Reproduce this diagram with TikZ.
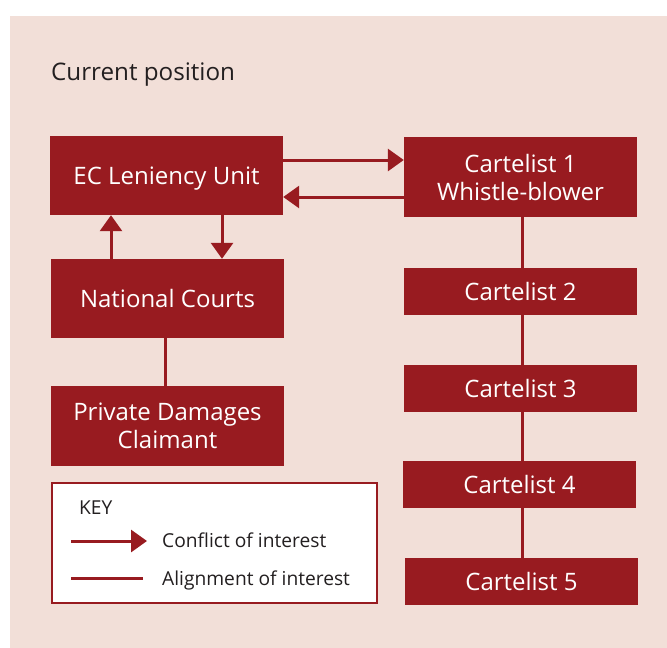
\documentclass[tikz,border=0pt]{standalone}
\usepackage{fontspec}
\setmainfont{Open Sans}
\usetikzlibrary{arrows.meta}
\definecolor{dred}{RGB}{152,27,32}
\definecolor{bgpink}{RGB}{242,223,216}
\definecolor{dgray}{RGB}{35,31,32}
\tikzset{
  box/.style={fill=dred, draw=none, text=white, align=center, inner sep=0pt,
    text depth=0pt, font=\fontsize{24}{28}\selectfont},
  conf/.style={draw=dred, line width=3pt, -{Triangle[length=16pt,width=22pt]}},
  align line/.style={draw=dred, line width=3pt},
  keytext/.style={text=dgray, anchor=base west, inner sep=0pt, font=\fontsize{19.2}{22}\selectfont},
}
\begin{document}
\begin{tikzpicture}[x=1pt,y=-1pt]
\useasboundingbox (0,0) rectangle (667,648);
\fill[bgpink] (10,16) rectangle (667,648);
\node[keytext, text=dgray, font=\fontsize{24.2}{28}\selectfont] (title) at (51,80.5) {Current position};
% boxes
\node[box, minimum width=233pt, minimum height=79pt] (ec) at (166.5,175.5) {EC Leniency Unit};
\node[box, minimum width=233pt, minimum height=80pt] (c1) at (520.5,177) {Cartelist 1\\Whistle-blower};
\node[box, minimum width=233pt, minimum height=79pt] (nc) at (167.5,298.5) {National Courts};
\node[box, minimum width=233pt, minimum height=80pt] (pdc) at (167.5,426) {Private Damages\\Claimant};
\node[box, minimum width=233pt, minimum height=47pt] (c2) at (520.5,291.5) {Cartelist 2};
\node[box, minimum width=233pt, minimum height=47pt] (c3) at (520.5,388.5) {Cartelist 3};
\node[box, minimum width=233pt, minimum height=47pt] (c4) at (519.5,484.5) {Cartelist 4};
\node[box, minimum width=233pt, minimum height=47pt] (c5) at (521.5,581.5) {Cartelist 5};
% connectors
\draw[conf] (ec.east |- 0,160) -- (c1.west |- 0,160);
\draw[conf] (c1.west |- 0,197) -- (ec.east |- 0,197);
\draw[conf] (nc.north -| 111,0) -- (ec.south -| 111,0);
\draw[conf] (ec.south -| 222,0) -- (nc.north -| 222,0);
\draw[align line] (nc.south -| 165,0) -- (pdc.north -| 165,0);
\draw[align line] (c1.south -| 522,0) -- (c2.north -| 522,0);
\draw[align line] (c2.south -| 522,0) -- (c3.north -| 522,0);
\draw[align line] (c3.south -| 522,0) -- (c4.north -| 522,0);
\draw[align line] (c4.south -| 522,0) -- (c5.north -| 522,0);
% key
\node[draw=dred, line width=2pt, fill=white, minimum width=325pt, minimum height=120pt, inner sep=0pt] (key) at (214.5,543) {};
\node[keytext] (keyt) at (79,514) {KEY};
\coordinate (ka1) at (71,541);
\coordinate (ka2) at (147,541);
\coordinate (kl1) at (71,578);
\coordinate (kl2) at (143,578);
\draw[conf] (ka1) -- (ka2);
\draw[align line] (kl1) -- (kl2);
\node[keytext] (kc) at (162,547) {Conflict of interest};
\node[keytext] (kal) at (162,585) {Alignment of interest};
\end{tikzpicture}
\end{document}
